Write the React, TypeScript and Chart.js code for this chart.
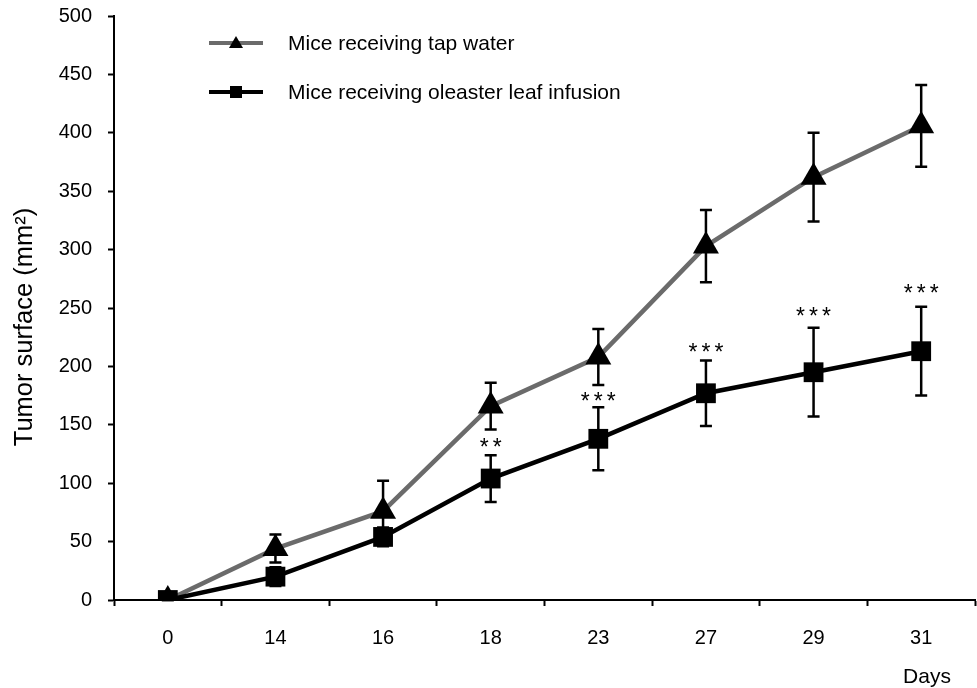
import React, { useEffect, useRef } from "react";
import { Chart, registerables } from "chart.js";

Chart.register(...registerables);

const days = ["0", "14", "16", "18", "23", "27", "29", "31"];
const tapWater = [0, 44, 76, 166, 208, 303, 362, 406];
const tapWaterErr = [3, 12, 26, 20, 24, 31, 38, 35];
const oleaster = [0, 20, 54, 104, 138, 177, 195, 213];
const oleasterErr = [4, 8, 8, 20, 27, 28, 38, 38];
const stars = ["", "", "", "**", "***", "***", "***", "***"];
const starLevels = [0, 0, 0, 135, 174, 216, 247, 267];
const yTicks = { min: 0, max: 500, step: 50 };
const seriesLabels = ["Mice receiving tap water", "Mice receiving oleaster leaf infusion"];

const FONT = "'Liberation Sans', Arial, Helvetica, sans-serif";
const GREY = "#6b6b6b";
const BLACK = "#000000";

export default function App() {
  const ref = useRef<HTMLCanvasElement | null>(null);

  useEffect(() => {
    const canvas = ref.current;
    if (!canvas) return;

    const errorBars = {
      id: "errorBars",
      afterDatasetsDraw(chart: any) {
        const ctx = chart.ctx;
        const yScale = chart.scales.y;
        const errs = [tapWaterErr, oleasterErr];
        ctx.save();
        ctx.strokeStyle = BLACK;
        ctx.lineWidth = 2.5;
        chart.data.datasets.forEach((ds: any, i: number) => {
          const meta = chart.getDatasetMeta(i);
          meta.data.forEach((pt: any, j: number) => {
            const v = ds.data[j];
            const e = errs[i][j];
            if (!e) return;
            const x = pt.x;
            const top = yScale.getPixelForValue(v + e);
            const bot = yScale.getPixelForValue(Math.max(0, v - e));
            ctx.beginPath();
            ctx.moveTo(x, top);
            ctx.lineTo(x, bot);
            ctx.moveTo(x - 6, top);
            ctx.lineTo(x + 6, top);
            ctx.moveTo(x - 6, bot);
            ctx.lineTo(x + 6, bot);
            ctx.stroke();
          });
        });
        ctx.restore();
      },
    };

    const decorations = {
      id: "decorations",
      afterDraw(chart: any) {
        const ctx = chart.ctx;
        const xScale = chart.scales.x;
        const yScale = chart.scales.y;
        ctx.save();
        // significance stars
        ctx.fillStyle = BLACK;
        const sf = 23;
        ctx.font = `${sf}px ${FONT}`;
        ctx.textAlign = "center";
        ctx.textBaseline = "alphabetic";
        const m = ctx.measureText("*");
        const asc = m.actualBoundingBoxAscent;
        const desc = m.actualBoundingBoxDescent;
        stars.forEach((s, j) => {
          if (!s) return;
          const x = xScale.getPixelForValue(j);
          const y = yScale.getPixelForValue(starLevels[j]);
          const base = y + (asc - desc) / 2;
          const n = s.length;
          for (let k = 0; k < n; k++) {
            const dx = (k - (n - 1) / 2) * 13;
            ctx.fillText("*", x + dx, base);
          }
        });

        // legend
        const items = [
          { color: GREY, style: "triangle" },
          { color: BLACK, style: "rect" },
        ];
        items.forEach((it, k) => {
          const y = 43 + k * 49;
          ctx.strokeStyle = it.color;
          ctx.lineWidth = 4;
          ctx.beginPath();
          ctx.moveTo(209, y);
          ctx.lineTo(263, y);
          ctx.stroke();
          ctx.fillStyle = BLACK;
          ctx.beginPath();
          if (it.style === "triangle") {
            ctx.moveTo(236, y - 7);
            ctx.lineTo(243, y + 5);
            ctx.lineTo(229, y + 5);
            ctx.closePath();
          } else {
            ctx.rect(230, y - 6, 12, 12);
          }
          ctx.fill();
          ctx.font = `21px ${FONT}`;
          ctx.textAlign = "left";
          ctx.textBaseline = "middle";
          ctx.fillText(seriesLabels[k], 288, y + 1);
        });

        // axis titles
        ctx.font = `21px ${FONT}`;
        ctx.textAlign = "center";
        ctx.textBaseline = "middle";
        ctx.fillText("Days", 927, 677);
        ctx.font = `25.5px ${FONT}`;
        ctx.translate(25, 327);
        ctx.rotate(-Math.PI / 2);
        ctx.fillText("Tumor surface (mm²)", 0, 0);
        ctx.restore();
      },
    };

    const chart = new Chart(canvas, {
      type: "line",
      data: {
        labels: days,
        datasets: [
          {
            label: seriesLabels[0],
            data: tapWater,
            borderColor: GREY,
            borderWidth: 4.5,
            pointStyle: "triangle",
            pointRadius: 15,
            pointHoverRadius: 15,
            pointBackgroundColor: BLACK,
            pointBorderColor: BLACK,
            pointBorderWidth: 0,
            order: 2,
          },
          {
            label: seriesLabels[1],
            data: oleaster,
            borderColor: BLACK,
            borderWidth: 4.5,
            pointStyle: "rect",
            pointRadius: 14,
            pointHoverRadius: 14,
            pointBackgroundColor: BLACK,
            pointBorderColor: BLACK,
            pointBorderWidth: 0,
            order: 1,
          },
        ],
      },
      options: {
        responsive: false,
        animation: false,
        layout: { autoPadding: false, padding: { top: 16, right: 2, left: 0, bottom: 0 } },
        plugins: {
          legend: { display: false },
          tooltip: { enabled: false },
        },
        scales: {
          x: {
            type: "category",
            offset: true,
            grid: {
              offset: true,
              drawOnChartArea: false,
              drawTicks: true,
              tickLength: 6,
              tickWidth: 2,
              tickColor: BLACK,
            },
            border: { display: true, color: BLACK, width: 2 },
            ticks: {
              color: BLACK,
              font: { family: FONT, size: 20 },
              padding: 20,
              maxRotation: 0,
            },
            afterFit(scale: any) {
              scale.height = 88;
              scale.paddingLeft = 0;
              scale.paddingRight = 0;
            },
          },
          y: {
            min: yTicks.min,
            max: yTicks.max,
            grid: {
              drawOnChartArea: false,
              drawTicks: true,
              tickLength: 6,
              tickWidth: 2,
              tickColor: BLACK,
            },
            border: { display: true, color: BLACK, width: 2 },
            ticks: {
              stepSize: yTicks.step,
              color: BLACK,
              font: { family: FONT, size: 20 },
              padding: 16,
            },
            afterFit(scale: any) {
              scale.width = 114;
              scale.paddingTop = 0;
              scale.paddingBottom = 0;
            },
          },
        },
      },
      plugins: [errorBars, decorations],
    });

    return () => chart.destroy();
  }, []);

  return (
    <div style={{ position: "fixed", left: 0, top: 0, width: 977, height: 688, background: "#fff" }}>
      <canvas ref={ref} width={977} height={688} />
    </div>
  );
}
